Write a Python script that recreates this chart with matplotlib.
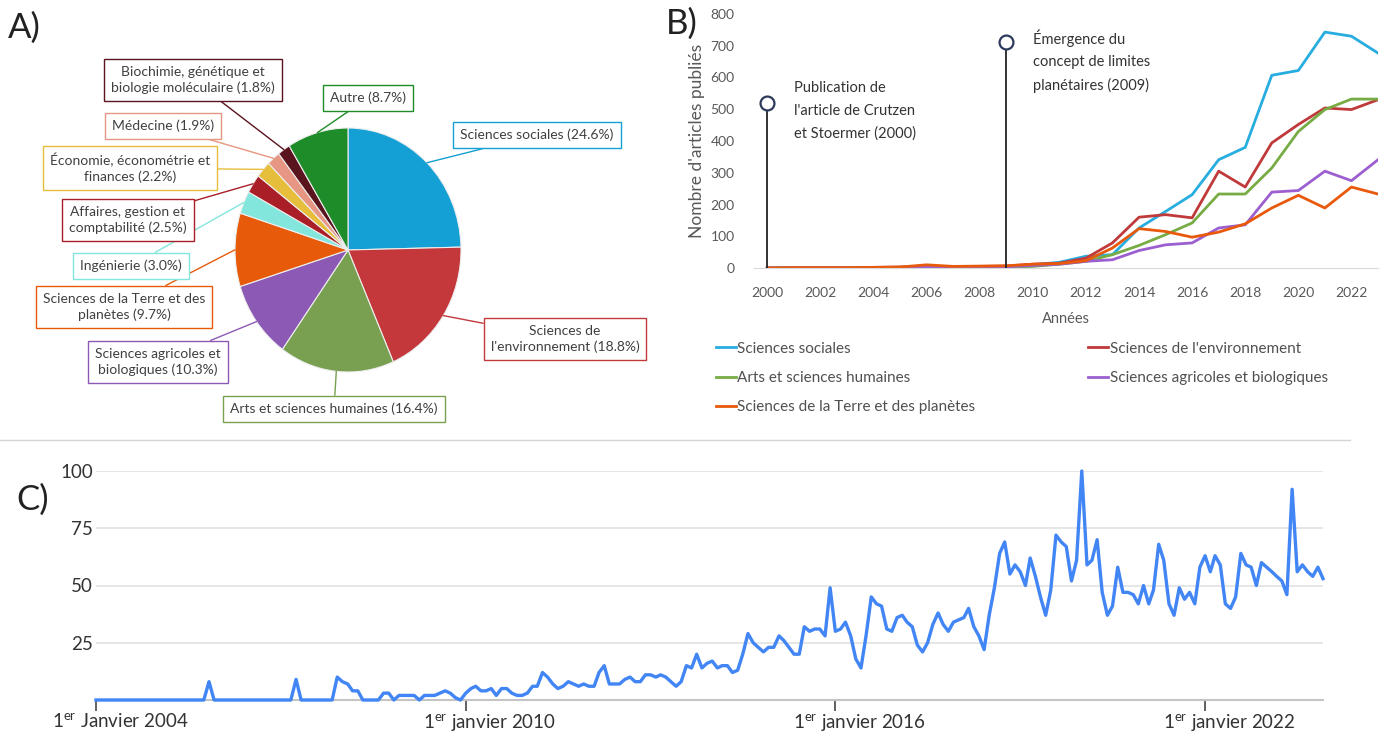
import numpy as np
import pandas as pd
import matplotlib
matplotlib.use("Agg")
import matplotlib.pyplot as plt
from matplotlib.transforms import Affine2D, ScaledTranslation
from matplotlib.lines import Line2D

plt.rcParams['font.family'] = ['Lato', 'DejaVu Sans']
plt.rcParams['mathtext.fontset'] = 'custom'
plt.rcParams['mathtext.rm'] = 'Lato'

# ---- A) répartition par domaine (pie)
pie_labels = ["Sciences sociales (24.6%)", "Sciences de\nl'environnement (18.8%)",
              "Arts et sciences humaines (16.4%)", "Sciences agricoles et\nbiologiques (10.3%)",
              "Sciences de la Terre et des\nplanètes (9.7%)", "Ingénierie (3.0%)",
              "Affaires, gestion et\ncomptabilité (2.5%)", "Économie, économétrie et\nfinances (2.2%)",
              "Médecine (1.9%)", "Biochimie, génétique et\nbiologie moléculaire (1.8%)", "Autre (8.7%)"]
pie_shares = [24.6, 18.8, 16.4, 10.3, 9.7, 3.0, 2.5, 2.2, 1.9, 1.8, 8.7]
pie_colors = ["#14A0D4", "#C4383C", "#78A050", "#8C5AB4", "#E65A0A", "#82E6DC",
              "#AA1E28", "#E6BE3C", "#E69682", "#5A141E", "#1E8C28"]

# ---- B) articles publiés par année
years = np.arange(2000, 2024)
soc = [0, 0, 1, 0, 1, 2, 3, 3, 4, 5, 10, 18, 37, 42, 126, 178, 231, 341, 380, 607, 622, 743, 730, 677]
env = [0, 1, 1, 1, 2, 3, 5, 4, 5, 6, 12, 15, 31, 79, 160, 168, 158, 305, 255, 394, 452, 504, 499, 530]
arts = [0, 0, 0, 0, 0, 0, 1, 1, 1, 2, 5, 12, 21, 42, 71, 105, 142, 233, 233, 315, 430, 499, 532, 532]
agri = [0, 0, 0, 0, 1, 2, 3, 2, 3, 4, 8, 12, 21, 26, 55, 73, 79, 126, 136, 239, 244, 305, 275, 341]
terre = [0, 1, 1, 1, 2, 3, 10, 5, 6, 7, 12, 14, 23, 63, 124, 115, 97, 113, 139, 189, 229, 189, 255, 233]
event_years = [2000, 2009]
event_tops = [520, 712]
event_text_y = [588, 752]
event_texts = ["Publication de\nl'article de Crutzen\net Stoermer (2000)",
               "Émergence du\nconcept de limites\nplanétaires (2009)"]

# ---- C) intérêt de recherche (mensuel 2004-2023)
trend = [0, 0, 0, 0, 0, 0, 0, 0, 0, 0, 0, 0,
         0, 0, 0, 0, 0, 0, 0, 0, 0, 0, 8, 0,
         0, 0, 0, 0, 0, 0, 0, 0, 0, 0, 0, 0,
         0, 0, 0, 9, 0, 0, 0, 0, 0, 0, 0, 10,
         8, 7, 4, 4, 0, 0, 0, 0, 3, 3, 0, 2,
         2, 2, 2, 0, 2, 2, 2, 3, 4, 3, 1, 0,
         3, 5, 6, 4, 4, 5, 2, 5, 5, 3, 2, 2,
         3, 6, 6, 12, 10, 7, 5, 6, 8, 7, 6, 7,
         6, 6, 12, 15, 7, 7, 7, 9, 10, 8, 8, 11,
         11, 10, 11, 10, 8, 6, 8, 15, 14, 20, 14, 16,
         17, 14, 15, 15, 12, 13, 20, 29, 25, 23, 21, 23,
         23, 28, 26, 23, 20, 20, 32, 30, 31, 31, 28, 49,
         30, 31, 34, 28, 18, 14, 28, 45, 42, 41, 31, 30,
         36, 37, 34, 32, 24, 21, 25, 33, 38, 33, 30, 34,
         35, 36, 40, 32, 28, 22, 37, 49, 64, 69, 55, 59,
         56, 50, 62, 54, 45, 37, 48, 72, 69, 67, 52, 61,
         100, 59, 61, 70, 47, 37, 41, 58, 47, 47, 46, 42,
         50, 42, 48, 68, 61, 42, 37, 49, 44, 47, 42, 58,
         63, 56, 63, 59, 42, 40, 45, 64, 59, 58, 50, 60,
         58, 56, 54, 52, 46, 92, 56, 59, 56, 54, 58, 53]
months = pd.date_range("2004-01-01", periods=len(trend), freq="MS")
c_ticks = pd.to_datetime(["2004-01-01", "2010-01-01", "2016-01-01", "2022-01-01"])
c_ticklabels = [r"1$^{\rm er}$ Janvier 2004", r"1$^{\rm er}$ janvier 2010",
                r"1$^{\rm er}$ janvier 2016", r"1$^{\rm er}$ janvier 2022"]

W, H = 1390, 736
fig = plt.figure(figsize=(W / 100, H / 100), dpi=100)
px = Affine2D().scale(1 / W, -1 / H).translate(0, 1) + fig.transFigure


def ax_px(l, t, r, b):
    return fig.add_axes([l / W, 1 - b / H, (r - l) / W, (b - t) / H])


txt = "#404040"

# ================= A =================
axa = ax_px(235, 128, 461, 372)
axa.pie(pie_shares, colors=pie_colors, startangle=90, counterclock=False,
        wedgeprops=dict(edgecolor="#EEEEEE", linewidth=0.8))
axa.set_aspect("auto")
axa.set_xlim(-1, 1)
axa.set_ylim(-1, 1)

label_pos = [(537, 135), (565, 339), (334, 409), (158, 362), (124, 307), (131, 266),
             (128, 220), (130, 168), (163, 126), (193, 80), (368, 98)]
total = sum(pie_shares)
cum = 0
for lab, s, c, pos in zip(pie_labels, pie_shares, pie_colors, label_pos):
    ang = np.deg2rad(90 - 360 * (cum + s / 2) / total)
    cum += s
    axa.annotate(lab, xy=(np.cos(ang), np.sin(ang)), xytext=pos, textcoords=px,
                 ha="center", va="center", fontsize=10, color=txt, linespacing=1.35,
                 bbox=dict(boxstyle="square,pad=0.5", fc="white", ec=c, lw=1),
                 arrowprops=dict(arrowstyle="-", color=c, lw=1, shrinkA=0, shrinkB=0))

# ================= B =================
axb = ax_px(754, 14, 1378, 268)
series = [(soc, "#27ADDF", "Sciences sociales"),
          (env, "#C0393B", "Sciences de l'environnement"),
          (arts, "#77AC45", "Arts et sciences humaines"),
          (agri, "#9B5FD0", "Sciences agricoles et biologiques"),
          (terre, "#E8590C", "Sciences de la Terre et des planètes")]
handles = {}
for vals, col, name in series:
    handles[name], = axb.plot(years, vals, color=col, lw=2, label=name)
for yr, top, ty, t in zip(event_years, event_tops, event_text_y, event_texts):
    axb.plot([yr, yr], [0, top], color="#222222", lw=1.3, zorder=5)
    axb.plot(yr, top, "o", ms=10, mfc="white", mec="#2E3A5C", mew=1.6, zorder=6)
    axb.text(yr + 1.0, ty, t, fontsize=10.5, color="#333333", va="top",
             ha="left", linespacing=1.75)
axb.set_xlim(1999.5, 2023)
axb.set_ylim(0, 800)
axb.set_xticks(np.arange(2000, 2024, 2))
axb.set_yticks(np.arange(0, 801, 100))
for sp in ["top", "right", "left"]:
    axb.spines[sp].set_visible(False)
axb.spines["bottom"].set_color("#D9D9D9")
axb.tick_params(length=0, labelsize=10, labelcolor="#595959")
axb.tick_params(axis="y", pad=14)
axb.tick_params(axis="x", pad=14)
axb.set_ylabel("Nombre d'articles publiés", fontsize=12.5, color="#595959", labelpad=4)
axb.set_xlabel("Années", fontsize=10.5, color="#595959", labelpad=9)

order = ["Sciences sociales", "Arts et sciences humaines", "Sciences de la Terre et des planètes",
         "Sciences de l'environnement", "Sciences agricoles et biologiques"]
fig.legend([handles[k] for k in order], order, loc="upper left", bbox_to_anchor=(702, 328),
           bbox_transform=px, ncol=2, frameon=False, fontsize=11, handlelength=1.3,
           handletextpad=0.1, columnspacing=7.4, labelspacing=1.0, labelcolor="#505050")

# separator
fig.add_artist(Line2D([0, 1350], [440, 440], transform=px, color="#D5D5D5", lw=1))

# ================= C =================
axc = ax_px(96, 471, 1323, 700)
axc.plot(months, trend, color="#4285F4", lw=2.4, clip_on=False, zorder=3)
axc.set_xlim(months[0], months[-1])
axc.set_ylim(0, 100)
axc.set_yticks([25, 50, 75, 100])
axc.yaxis.grid(True, color="#E6E6E6", lw=1.4)
axc.set_axisbelow(True)
for sp in ["top", "right", "left"]:
    axc.spines[sp].set_visible(False)
axc.spines["bottom"].set_color("#C4C4C4")
axc.spines["bottom"].set_linewidth(1.5)
axc.set_xticks(c_ticks)
axc.set_xticklabels(c_ticklabels)
axc.tick_params(axis="y", length=0, pad=2, labelsize=13.5, labelcolor="#333333")
axc.tick_params(axis="x", length=8, width=1.3, color="#555555", pad=1,
                labelsize=13.5, labelcolor="#333333")
for lab in axc.get_xticklabels():
    lab.set_transform(lab.get_transform() + ScaledTranslation(0.24, 0, fig.dpi_scale_trans))

# panel letters
for letter, pos in zip(["A)", "B)", "C)"], [(8, 28), (666, 24), (16, 500)]):
    fig.text(pos[0], pos[1], letter, transform=px, fontsize=25, color="#222222",
             ha="left", va="center")

fig.savefig("out.png", dpi=100)
